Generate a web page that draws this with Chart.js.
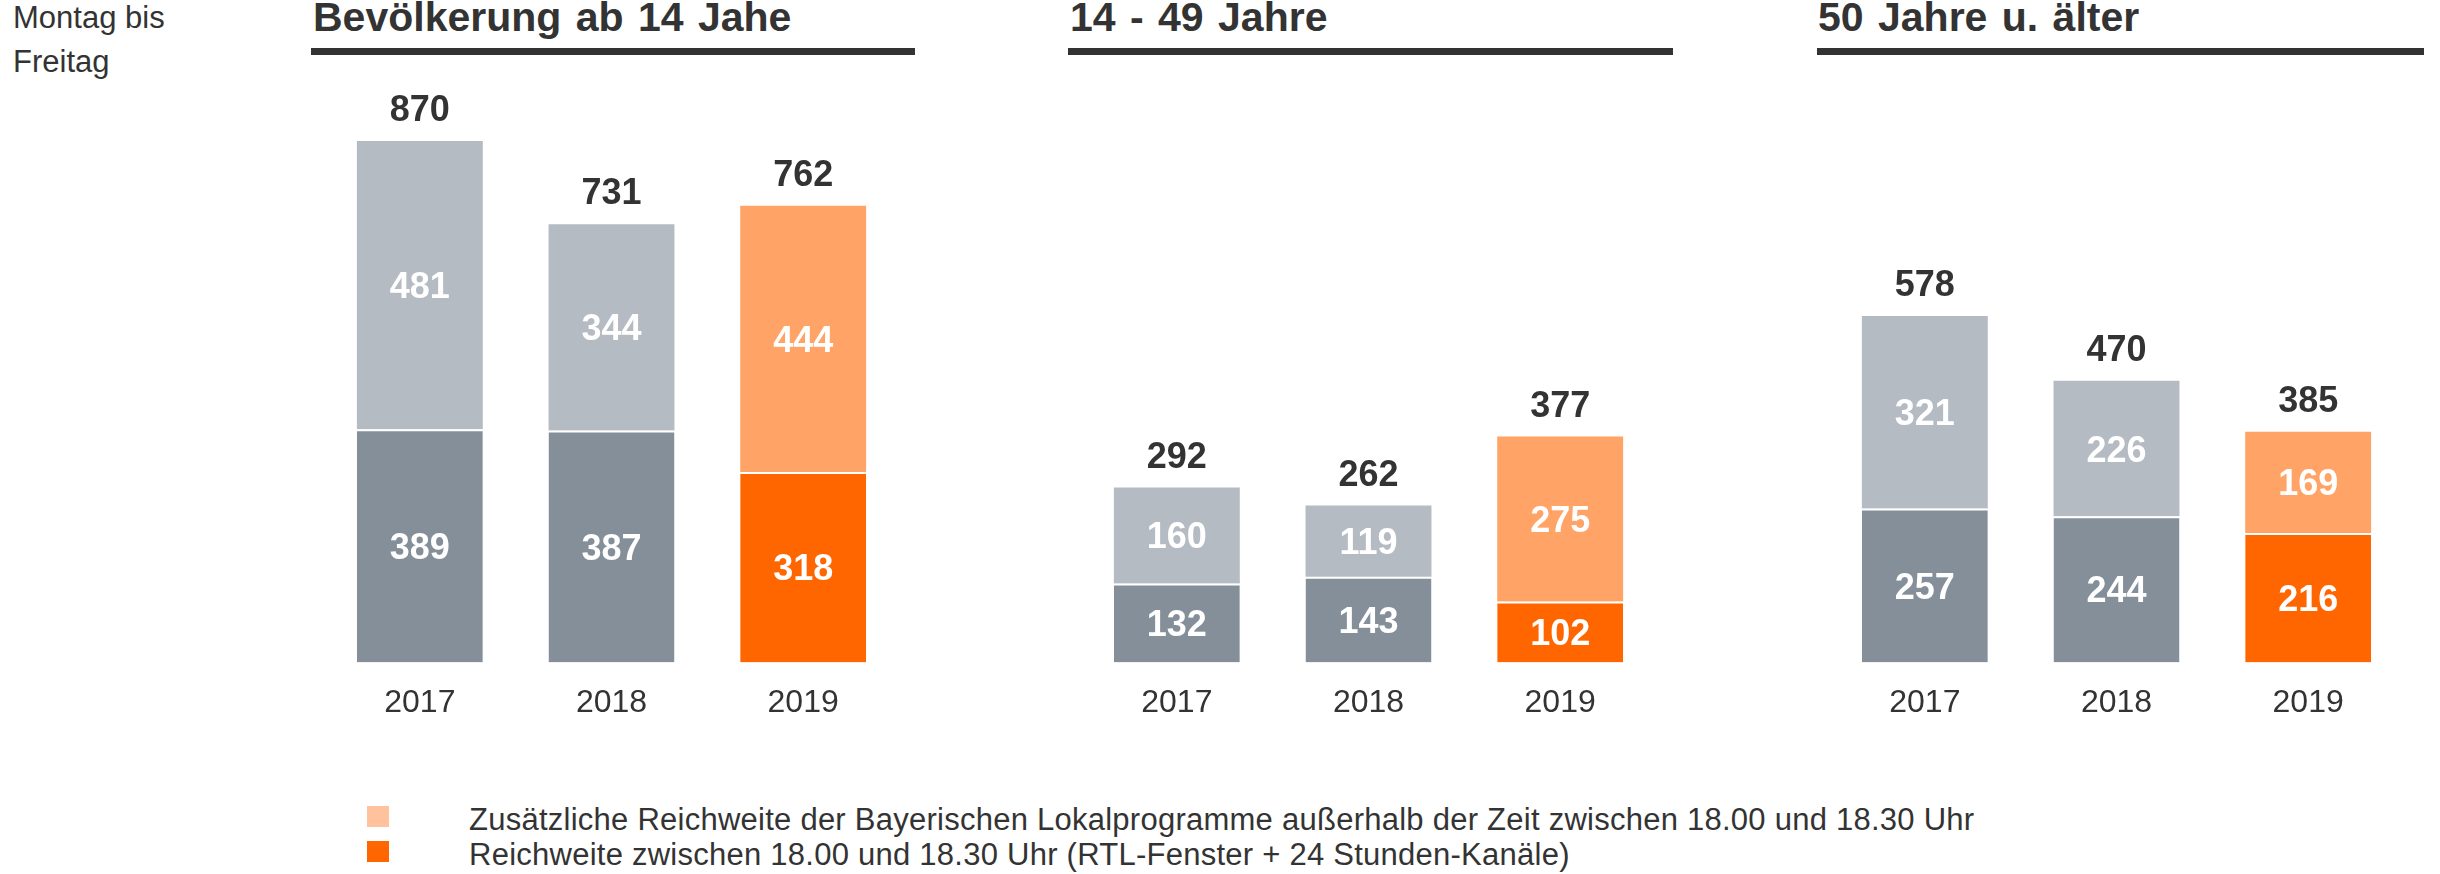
<!DOCTYPE html>
<html>
<head>
<meta charset="utf-8">
<script src="https://cdn.jsdelivr.net/npm/chart.js@4/dist/chart.umd.min.js"></script>
<style>
  body { margin: 0; background: #fff; }
  #wrap { position: relative; width: 2440px; height: 874px; overflow: hidden;
          font-family: "Liberation Sans", Arial, sans-serif; color: #333; }
  .txt { position: absolute; white-space: nowrap; }
  .side { font-size: 31px; line-height: 31px; left: 13px; }
  .title { font-size: 41px; line-height: 41px; font-weight: bold; top: -3px; word-spacing: 3px; }
  .rule { position: absolute; top: 48px; height: 7px; background: #333; }
  .leg { font-size: 31px; line-height: 31px; left: 469px; letter-spacing: 0.25px; }
  .sq { position: absolute; left: 367px; width: 22px; height: 21px; }
  canvas { position: absolute; top: 0; }
</style>
</head>
<body>
<div id="wrap">
  <div class="txt side" style="top:2px">Montag bis</div>
  <div class="txt side" style="top:46px">Freitag</div>

  <div class="txt title" style="left:313px">Bevölkerung ab 14 Jahe</div>
  <div class="rule" style="left:311px;width:604px"></div>
  <div class="txt title" style="left:1070px">14 - 49 Jahre</div>
  <div class="rule" style="left:1068px;width:605px"></div>
  <div class="txt title" style="left:1818px">50 Jahre u. älter</div>
  <div class="rule" style="left:1817px;width:607px"></div>

  <canvas id="c1" width="575" height="743" style="left:324px"></canvas>
  <canvas id="c2" width="575" height="743" style="left:1081px"></canvas>
  <canvas id="c3" width="575" height="743" style="left:1829px"></canvas>

  <div class="sq" style="top:806px;background:#ffc29c"></div>
  <div class="txt leg" style="top:804px">Zusätzliche Reichweite der Bayerischen Lokalprogramme außerhalb der Zeit zwischen 18.00 und 18.30 Uhr</div>
  <div class="sq" style="top:841px;background:#ff6600"></div>
  <div class="txt leg" style="top:839px">Reichweite zwischen 18.00 und 18.30 Uhr (RTL-Fenster + 24 Stunden-Kanäle)</div>
</div>

<script>
// data
var years = ['2017', '2018', '2019'];

// Bevölkerung ab 14 Jahre
var allLower = [389, 387, 318];
var allUpper = [481, 344, 444];
// 14 - 49 Jahre
var youngLower = [132, 143, 102];
var youngUpper = [160, 119, 275];
// 50 Jahre u. älter
var oldLower = [257, 244, 216];
var oldUpper = [321, 226, 169];

var lowerColors = ['#848f9a', '#848f9a', '#ff6600'];
var upperColors = ['#b5bbc3', '#b5bbc3', '#ffa466'];

var fontFamily = '"Liberation Sans", Arial, sans-serif';

// writes segment values (white) and totals (dark) on the bars
var valueLabels = {
  id: 'valueLabels',
  afterDatasetsDraw(chart) {
    let ctx = chart.ctx
    let low = chart.getDatasetMeta(0)
    let high = chart.getDatasetMeta(1)
    ctx.save()
    ctx.textAlign = 'center'
    ctx.textBaseline = 'alphabetic'
    ctx.font = 'bold 36px ' + fontFamily
    chart.data.labels.forEach((lab, i) => {
      [low, high].forEach((meta, d) => {
        let bar = meta.data[i]
        ctx.fillStyle = '#ffffff'
        ctx.fillText(chart.data.datasets[d].data[i], bar.x, (bar.y + bar.base) / 2 + 13)
      })
      let total = chart.data.datasets[0].data[i] + chart.data.datasets[1].data[i]
      ctx.fillStyle = '#333333'
      ctx.fillText(total, high.data[i].x, high.data[i].y - 20)
    })
    ctx.restore()
  }
};

function makePanel(id, lower, upper) {
  let ctx = document.getElementById(id).getContext('2d')
  return new Chart(ctx, {
    type: 'bar',
    data: {
      labels: years,
      datasets: [{
        data: lower,
        backgroundColor: lowerColors,
        borderColor: '#ffffff',
        borderWidth: {top: 2, right: 0, bottom: 0, left: 0},
        borderSkipped: false
      }, {
        data: upper,
        backgroundColor: upperColors,
        borderWidth: 0
      }]
    },
    options: {
      responsive: false,
      animation: false,
      layout: {padding: {top: 63, left: 0, right: 0, bottom: 0}},
      datasets: {bar: {categoryPercentage: 1, barPercentage: 0.657}},
      plugins: {legend: {display: false}, tooltip: {enabled: false}},
      scales: {
        x: {
          stacked: true,
          grid: {display: false, drawTicks: false},
          border: {display: false},
          ticks: {color: '#333333', padding: 21, font: {family: fontFamily, size: 32}}
        },
        y: {stacked: true, display: false, min: 0, max: 1000}
      }
    },
    plugins: [valueLabels]
  })
}

makePanel('c1', allLower, allUpper)
makePanel('c2', youngLower, youngUpper)
makePanel('c3', oldLower, oldUpper)
</script>
</body>
</html>
